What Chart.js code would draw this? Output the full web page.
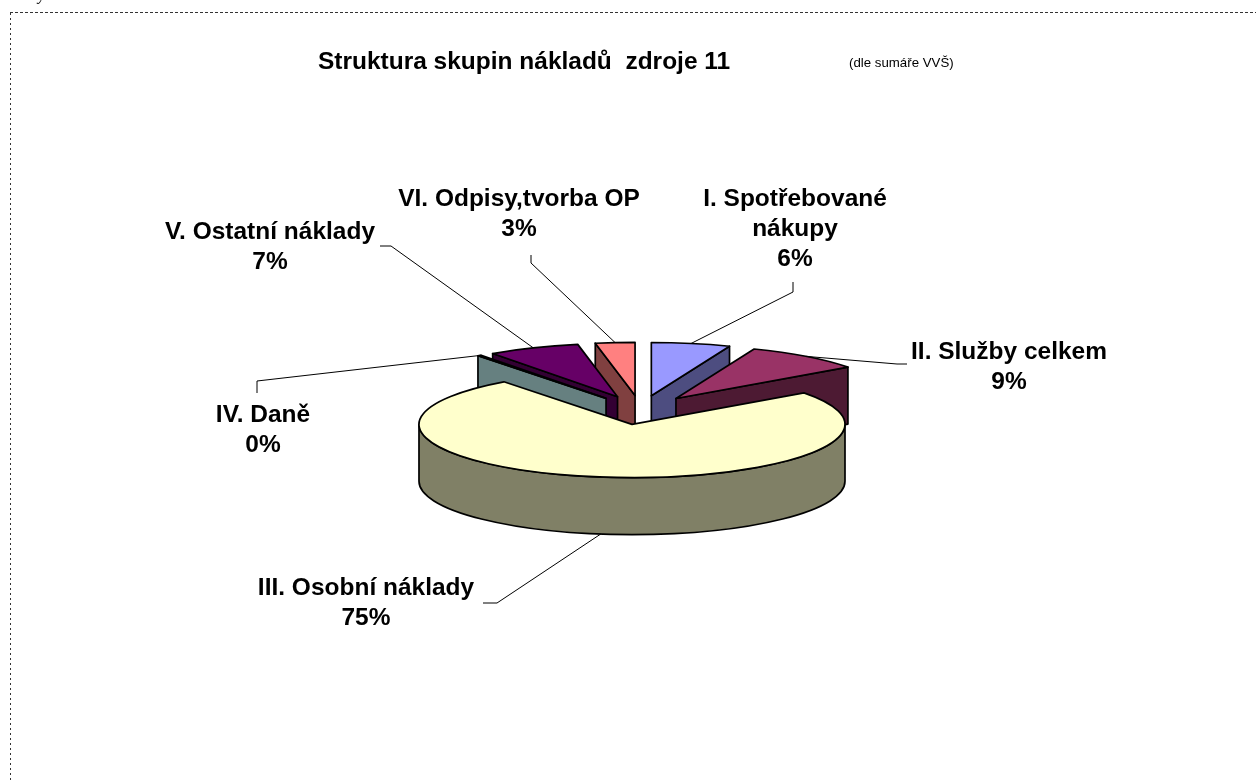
<!DOCTYPE html>
<html>
<head>
<meta charset="utf-8">
<script src="https://cdn.jsdelivr.net/npm/chart.js@4/dist/chart.umd.min.js"></script>
<style>
  html, body { margin: 0; padding: 0; background: #fff; }
  canvas { display: block; }
</style>
</head>
<body>
<canvas id="pie" width="1256" height="782"></canvas>
<script>
// data
const categories = ['I. Spotřebované nákupy', 'II. Služby celkem', 'III. Osobní náklady', 'IV. Daně', 'V. Ostatní náklady', 'VI. Odpisy,tvorba OP'];
const values = [6, 9, 75, 0.3, 7, 3];
const chartTitle = 'Struktura skupin nákladů  zdroje 11';
const chartNote = '(dle sumáře VVŠ)';

// Excel 97 default 3D pie colours (top face / side face)
const topColors = ['#9999FF', '#993366', '#FFFFCC', '#CCFFFF', '#660066', '#FF8080'];
const sideColors = ['#4D4D80', '#4D1A33', '#808066', '#668080', '#330033', '#804040'];

const TILT = 0.25;    // vertical squash of the pie top
const DEPTH = 57;     // thickness of the pie
const EXPLODE = 58;   // explosion distance
const TEXT_STRETCH = 1.02;
const LABEL_FONT = 'bold 24px "Liberation Sans", Arial, sans-serif';

// label boxes: centre x, first line y, wrap width, leader polyline start
const labelLayout = [
  { x: 795, y: 199, wrap: 190, lead: [[793, 282], [793, 292]] },
  { x: 1009, y: 352, lead: [[907, 364], [897, 364]] },
  { x: 366, y: 588, lead: [[483, 603], [497, 603]] },
  { x: 263, y: 415, lead: [[257, 393], [257, 381]] },
  { x: 270, y: 232, lead: [[380, 246], [391, 246]] },
  { x: 519, y: 199, lead: [[531, 255], [531, 263]] }
];

function stretchedText(ctx, text, x, y) {
  ctx.save();
  ctx.translate(x, y);
  ctx.scale(TEXT_STRETCH, 1);
  ctx.fillText(text, 0, 0);
  ctx.restore();
}

function wrapLines(ctx, text, maxWidth) {
  if (!maxWidth) return [text];
  const words = text.split(' ');
  const lines = [];
  let cur = '';
  words.forEach(w => {
    const test = cur ? cur + ' ' + w : w;
    if (cur && ctx.measureText(test).width * TEXT_STRETCH > maxWidth) {
      lines.push(cur);
      cur = w;
    } else {
      cur = test;
    }
  });
  if (cur) lines.push(cur);
  return lines;
}

const pie3d = {
  id: 'pie3d',
  beforeDraw(chart) {
    const ctx = chart.ctx;
    ctx.save();
    ctx.fillStyle = '#fff';
    ctx.fillRect(0, 0, chart.width, chart.height);

    // dotted frame (only top and left are in the picture)
    ctx.strokeStyle = '#333';
    ctx.lineWidth = 1;
    ctx.setLineDash([3, 2]);
    ctx.beginPath();
    ctx.moveTo(10, 12.5);
    ctx.lineTo(chart.width, 12.5);
    ctx.stroke();
    ctx.setLineDash([2, 3]);
    ctx.beginPath();
    ctx.moveTo(10.5, 13);
    ctx.lineTo(10.5, chart.height);
    ctx.stroke();
    ctx.setLineDash([]);

    // cut-off glyph at the very top
    ctx.fillStyle = '#000';
    ctx.font = 'italic 16px "Liberation Serif", serif';
    ctx.textBaseline = 'alphabetic';
    ctx.fillText('y', 38, 0);

    // title
    ctx.font = LABEL_FONT;
    ctx.textAlign = 'left';
    stretchedText(ctx, chartTitle, 318, 69);
    ctx.font = '13px "Liberation Sans", Arial, sans-serif';
    stretchedText(ctx, chartNote, 849, 67);
    ctx.restore();
  },
  beforeDatasetsDraw() {
    return false; // the flat pie is replaced by the 3D one below
  },
  afterDraw(chart) {
    const ctx = chart.ctx;
    const meta = chart.getDatasetMeta(0);
    const total = values.reduce((a, b) => a + b, 0);

    const geo = meta.data.map((arc, i) => {
      const mid = (arc.startAngle + arc.endAngle) / 2;
      const off = arc.options.offset;
      return {
        i, s: arc.startAngle, e: arc.endAngle, mid, r: arc.outerRadius,
        cx: arc.x + Math.cos(mid) * off,
        cy: arc.y + Math.sin(mid) * off * TILT
      };
    });

    const pt = (g, a, dy) => [g.cx + Math.cos(a) * g.r, g.cy + Math.sin(a) * g.r * TILT + dy];

    ctx.save();
    ctx.lineWidth = 1.7;
    ctx.lineJoin = 'round';
    ctx.strokeStyle = '#000';

    const order = geo.slice().sort((a, b) => Math.sin(a.mid) - Math.sin(b.mid));
    order.forEach(g => {
      const side = sideColors[g.i];
      const quad = (a) => {
        const p1 = pt(g, a, 0), p2 = pt(g, a, DEPTH);
        ctx.beginPath();
        ctx.moveTo(g.cx, g.cy);
        ctx.lineTo(p1[0], p1[1]);
        ctx.lineTo(p2[0], p2[1]);
        ctx.lineTo(g.cx, g.cy + DEPTH);
        ctx.closePath();
        ctx.fillStyle = side;
        ctx.fill();
        ctx.stroke();
      };
      // radial walls facing the viewer
      if (Math.cos(g.s) < -1e-6) quad(g.s);
      if (Math.cos(g.e) > 1e-6) quad(g.e);

      // outer curved wall where it faces the viewer
      for (let k = -1; k <= 2; k++) {
        const a = Math.max(g.s, 2 * Math.PI * k);
        const b = Math.min(g.e, 2 * Math.PI * k + Math.PI);
        if (b <= a) continue;
        ctx.beginPath();
        ctx.ellipse(g.cx, g.cy, g.r, g.r * TILT, 0, a, b);
        ctx.ellipse(g.cx, g.cy + DEPTH, g.r, g.r * TILT, 0, b, a, true);
        ctx.closePath();
        ctx.fillStyle = side;
        ctx.fill();
        ctx.stroke();
      }

      // top face
      ctx.beginPath();
      ctx.moveTo(g.cx, g.cy);
      ctx.ellipse(g.cx, g.cy, g.r, g.r * TILT, 0, g.s, g.e);
      ctx.closePath();
      ctx.fillStyle = topColors[g.i];
      ctx.fill();
      ctx.stroke();
    });

    // leader lines
    ctx.lineWidth = 1;
    ctx.strokeStyle = '#000';
    geo.forEach(g => {
      const lay = labelLayout[g.i];
      const end = pt(g, g.mid, Math.sin(g.mid) > 0 ? DEPTH : 0);
      ctx.beginPath();
      ctx.moveTo(lay.lead[0][0], lay.lead[0][1]);
      ctx.lineTo(lay.lead[1][0], lay.lead[1][1]);
      ctx.lineTo(end[0], end[1]);
      ctx.stroke();
    });

    // labels
    ctx.fillStyle = '#000';
    ctx.font = LABEL_FONT;
    ctx.textAlign = 'center';
    ctx.textBaseline = 'middle';
    geo.forEach(g => {
      const lay = labelLayout[g.i];
      const pct = Math.round(values[g.i] / total * 100) + '%';
      const lines = wrapLines(ctx, categories[g.i], lay.wrap).concat([pct]);
      lines.forEach((line, j) => stretchedText(ctx, line, lay.x, lay.y + j * 30));
    });
    ctx.restore();
  }
};

new Chart(document.getElementById('pie'), {
  type: 'pie',
  data: {
    labels: categories,
    datasets: [{
      data: values,
      backgroundColor: topColors,
      borderColor: '#000',
      borderWidth: 1.5,
      offset: EXPLODE
    }]
  },
  options: {
    responsive: false,
    animation: false,
    radius: 213,
    layout: { padding: { left: 25, top: 38, right: 0, bottom: 0 } },
    events: [],
    plugins: {
      legend: { display: false },
      tooltip: { enabled: false },
      title: { display: false }
    }
  },
  plugins: [pie3d]
});
</script>
</body>
</html>
